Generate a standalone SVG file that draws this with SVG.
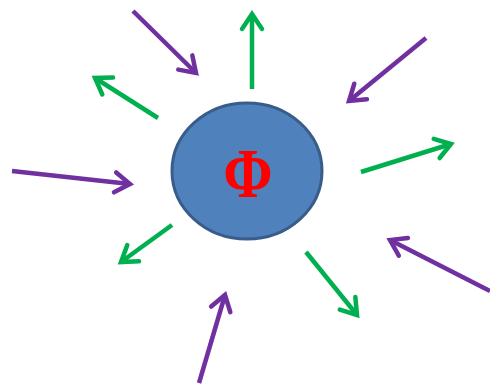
<svg xmlns="http://www.w3.org/2000/svg" width="490" height="386" viewBox="0 0 490 386">
<style>
.in{stroke:#7030A0;stroke-width:4.5;fill:none}
.out{stroke:#00B050;stroke-width:4.5;fill:none}
</style>
<defs>
<marker id="hp" markerUnits="userSpaceOnUse" markerWidth="30" markerHeight="30" viewBox="-20 -15 30 30" refX="0" refY="0" orient="auto" overflow="visible">
<path d="M-15,-10 L0,0 L-15,10" fill="none" stroke="#7030A0" stroke-width="4.5" stroke-linecap="round" stroke-linejoin="miter"/>
</marker>
<marker id="hg" markerUnits="userSpaceOnUse" markerWidth="30" markerHeight="30" viewBox="-20 -15 30 30" refX="0" refY="0" orient="auto" overflow="visible">
<path d="M-15,-10 L0,0 L-15,10" fill="none" stroke="#00B050" stroke-width="4.5" stroke-linecap="round" stroke-linejoin="miter"/>
</marker>
</defs>
<rect width="490" height="386" fill="#fff"/>
<g id="center">
<ellipse cx="247" cy="171" rx="75" ry="68" fill="#4F81BD" stroke="#385D8A" stroke-width="3"/>
<text x="248" y="197" text-anchor="middle" font-family="Liberation Serif, serif" font-weight="bold" font-size="70" fill="#FF0000" transform="translate(248 0) scale(0.85 1) translate(-248 0)">Φ</text>
</g>
<g id="connectors">
<line class="in" x1="133" y1="11" x2="196" y2="73" marker-end="url(#hp)"/>
<line class="in" x1="426" y1="38" x2="349" y2="101" marker-end="url(#hp)"/>
<line class="in" x1="12" y1="171" x2="130" y2="184" marker-end="url(#hp)"/>
<line class="in" x1="490" y1="291" x2="390" y2="240" marker-end="url(#hp)"/>
<line class="in" x1="199" y1="383" x2="225" y2="295" marker-end="url(#hp)"/>
<line class="out" x1="252" y1="89" x2="252" y2="14" marker-end="url(#hg)"/>
<line class="out" x1="158" y1="118" x2="95" y2="78" marker-end="url(#hg)"/>
<line class="out" x1="361" y1="172" x2="451" y2="144" marker-end="url(#hg)"/>
<line class="out" x1="172" y1="225" x2="121" y2="262" marker-end="url(#hg)"/>
<line class="out" x1="306" y1="252" x2="357" y2="315" marker-end="url(#hg)"/>
</g>
</svg>
